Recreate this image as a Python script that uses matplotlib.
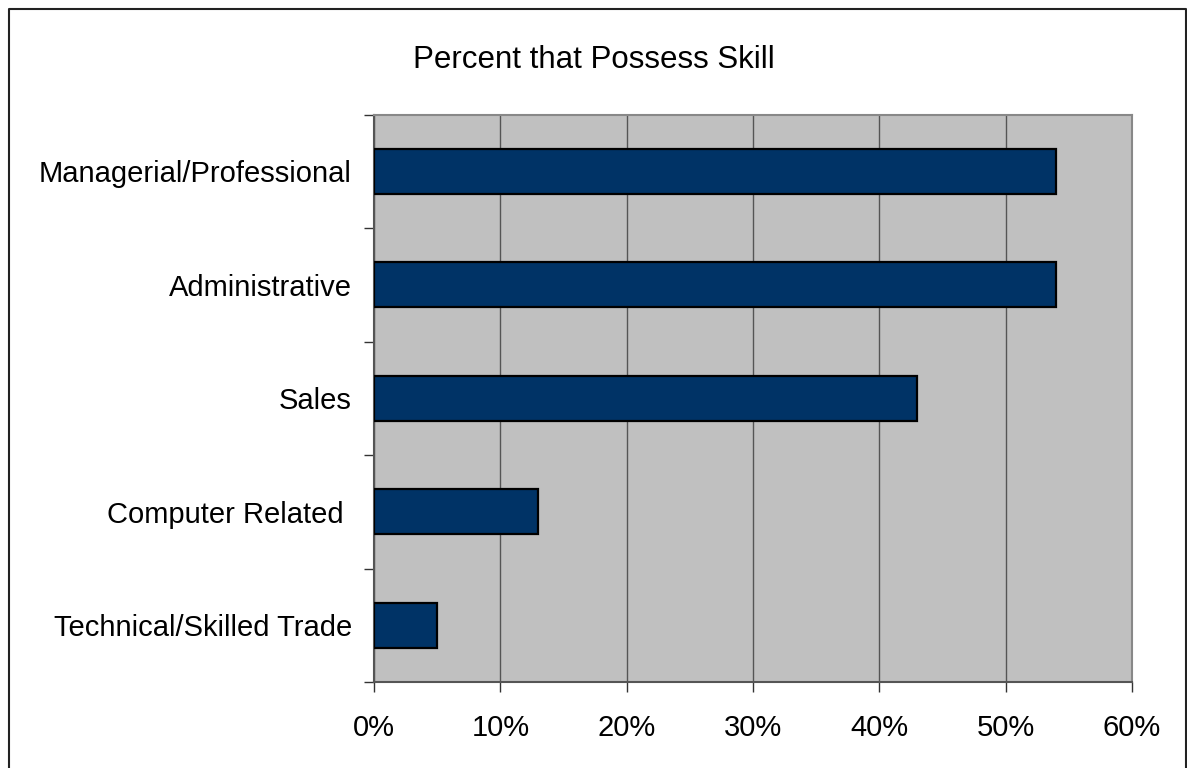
import matplotlib
matplotlib.use("Agg")
import matplotlib.pyplot as plt
from matplotlib.lines import Line2D
from matplotlib.ticker import FixedLocator

plt.rcParams['font.family'] = ['Liberation Sans', 'DejaVu Sans']

# Data
categories = ["Managerial/Professional", "Administrative", "Sales",
              "Computer Related ", "Technical/Skilled Trade"]
percents = [54, 54, 43, 13, 5]
x_ticks = [0, 10, 20, 30, 40, 50, 60]
x_labels = ["0%", "10%", "20%", "30%", "40%", "50%", "60%"]

W, H = 1187, 768
fig = plt.figure(figsize=(W / 100, H / 100), dpi=100)

# outer frame (left, top, right; bottom is cut off)
fx = [9 / W, 9 / W, 1185.5 / W, 1185.5 / W]
fy = [0, 1 - 8.5 / H, 1 - 8.5 / H, 0]
fig.lines.append(Line2D(fx, fy, transform=fig.transFigure, color='#222222',
                        linewidth=1.5))

left, right, top, bottom = 374, 1132, 114.5, 682
ax = fig.add_axes([left / W, 1 - bottom / H, (right - left) / W, (bottom - top) / H])
ax.set_facecolor('#C0C0C0')

# categories top to bottom
ypos = list(range(len(categories)))[::-1]
ax.barh(ypos, percents, height=0.40, color='#003366', edgecolor='black',
        linewidth=1.6, zorder=3)

ax.set_xlim(0, 60)
ax.set_ylim(-0.5, len(categories) - 0.5)

ax.set_xticks(x_ticks)
ax.set_xticklabels(x_labels, fontsize=21)
ax.xaxis.grid(True, color='#555555', linewidth=1.0, zorder=1)
ax.set_axisbelow(True)

# y labels centered on bars, ticks at category boundaries
ax.set_yticks(ypos)
ax.set_yticklabels(categories, fontsize=21)
ax.yaxis.set_minor_locator(FixedLocator([i - 0.5 for i in range(len(categories) + 1)]))
ax.tick_params(axis='y', which='major', length=0, pad=16)
ax.tick_params(axis='y', which='minor', length=7, width=1.0, color='#333333', direction='out')
ax.tick_params(axis='x', which='major', length=7, width=1.0, color='#333333',
               direction='out', pad=16)

for side in ['left', 'bottom']:
    ax.spines[side].set_color('#555555')
    ax.spines[side].set_linewidth(1.5)
for side in ['top', 'right']:
    ax.spines[side].set_color('#888888')
    ax.spines[side].set_linewidth(1.5)

fig.text(594 / W, 1 - 60 / H, "Percent that Possess Skill", fontsize=22.5,
         ha='center', va='center')

fig.savefig("out.png", dpi=100)
